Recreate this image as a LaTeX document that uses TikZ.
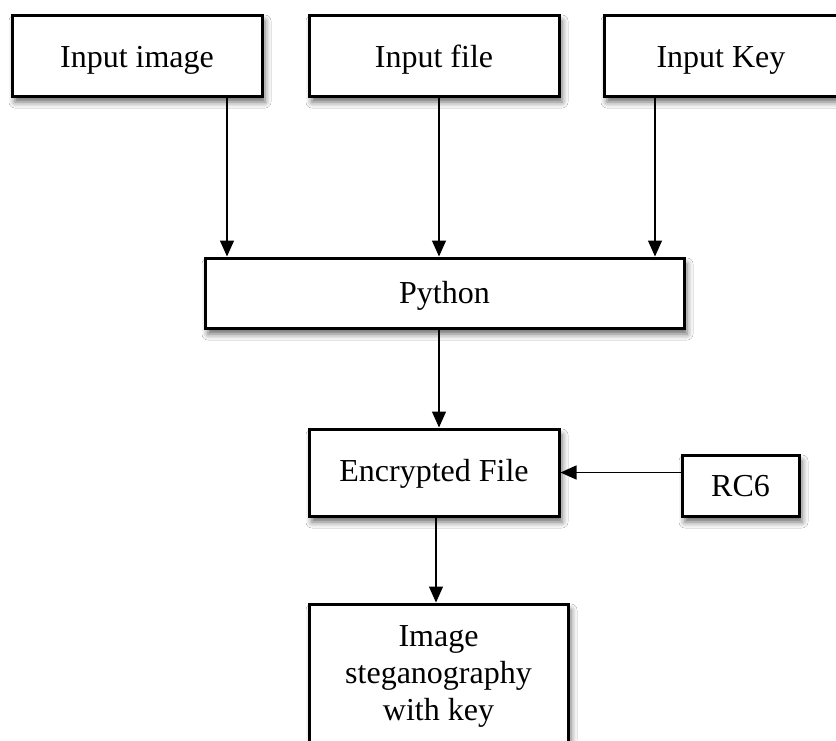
\documentclass[tikz,border=0pt]{standalone}
\usepackage{fontspec}
\setmainfont{Liberation Serif}
\usetikzlibrary{arrows.meta,shadows.blur}
\begin{document}
\begin{tikzpicture}[x=1pt,y=-1pt,
  box/.style={draw=black, line width=3pt, fill=white, inner sep=0pt,
    font=\fontsize{32}{37}\selectfont, align=center,
    blur shadow={shadow xshift=3pt, shadow yshift=-6pt, shadow blur radius=6pt, shadow opacity=60}},
  oneline/.style={text height=30pt, text depth=7pt},
  arr/.style={line width=1.3pt, -{Triangle[length=16pt,width=14pt]}}]
\clip (0,0) rectangle (836,740);
\fill[white] (0,0) rectangle (836,740);
\node[box, oneline, minimum width=250pt, minimum height=81pt] (img) at (137,55.5) {Input image};
\node[box, oneline, minimum width=250pt, minimum height=81pt] (file) at (434,55.5) {Input file};
\node[box, oneline, minimum width=234pt, minimum height=81pt] (key) at (721,55.5) {Input Key};
\node[box, text height=28pt, text depth=7pt, minimum width=479pt, minimum height=70pt] (py) at (444.5,293) {Python};
\node[box, text height=24pt, text depth=7pt, minimum width=250pt, minimum height=87pt] (enc) at (434,472.5) {Encrypted File};
\node[box, text height=28pt, text depth=7pt, minimum width=117pt, minimum height=61pt] (rc6) at (740.5,485.5) {RC6};
\node[box, minimum width=259pt, minimum height=144pt] (steg) at (438.5,676) {Image\\steganography\\with key};
\coordinate (c1) at (227,0);
\coordinate (c2) at (439,0);
\coordinate (c3) at (655,0);
\coordinate (c4) at (436,0);
\draw[arr] (img.south -| c1) -- (py.north -| c1);
\draw[arr] (file.south -| c2) -- (py.north -| c2);
\draw[arr] (key.south -| c3) -- (py.north -| c3);
\draw[arr] (py.south -| c2) -- (enc.north -| c2);
\draw[arr] (rc6.west |- enc.east) -- (enc.east);
\draw[arr] (enc.south -| c4) -- (steg.north -| c4);
\end{tikzpicture}
\end{document}
